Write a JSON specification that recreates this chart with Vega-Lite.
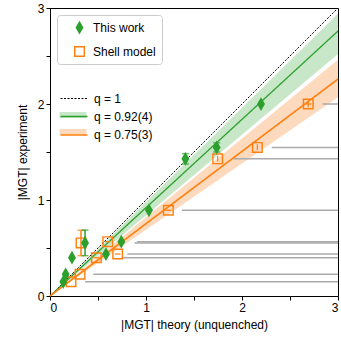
{
  "$schema": "https://vega.github.io/schema/vega-lite/v6.json",
  "width": 288,
  "height": 288,
  "autosize": {"type": "none"},
  "padding": {"left": 50, "top": 8, "right": 3, "bottom": 44},
  "background": "white",
  "config": {
    "font": "Liberation Sans",
    "view": {"stroke": "#000", "strokeWidth": 1},
    "axis": {
      "grid": false,
      "domainColor": "#000",
      "tickColor": "#000",
      "labelColor": "#000",
      "titleColor": "#000",
      "labelFontSize": 12,
      "titleFontSize": 12,
      "titleFontWeight": "normal",
      "tickSize": 4,
      "labelPadding": 2
    },
    "legend": {"labelFontSize": 12, "labelColor": "#000", "labelFont": "Liberation Sans"}
  },
  "datasets": {
    "points": [
      {"series": "Shell model", "x": 0.219, "y": 0.148},
      {"series": "Shell model", "x": 0.313, "y": 0.226},
      {"series": "Shell model", "x": 0.323, "y": 0.553},
      {"series": "Shell model", "x": 0.483, "y": 0.399},
      {"series": "Shell model", "x": 0.601, "y": 0.566},
      {"series": "Shell model", "x": 0.705, "y": 0.437},
      {"series": "Shell model", "x": 1.233, "y": 0.893},
      {"series": "Shell model", "x": 1.747, "y": 1.429},
      {"series": "Shell model", "x": 2.16, "y": 1.548},
      {"series": "Shell model", "x": 2.69, "y": 2.0},
      {"series": "This work", "x": 0.139, "y": 0.148},
      {"series": "This work", "x": 0.163, "y": 0.226},
      {"series": "This work", "x": 0.229, "y": 0.399},
      {"series": "This work", "x": 0.365, "y": 0.553},
      {"series": "This work", "x": 0.583, "y": 0.437},
      {"series": "This work", "x": 0.743, "y": 0.566},
      {"series": "This work", "x": 1.031, "y": 0.893},
      {"series": "This work", "x": 1.41, "y": 1.429},
      {"series": "This work", "x": 1.736, "y": 1.548},
      {"series": "This work", "x": 2.198, "y": 2.0}
    ],
    "greenErr": [
      {"x": 0.365, "y": 0.42, "y2": 0.687},
      {"x": 1.41, "y": 1.375, "y2": 1.483},
      {"x": 1.736, "y": 1.5, "y2": 1.596}
    ],
    "orangeErr": [
      {"x": 0.323, "y": 0.42, "y2": 0.685}
    ],
    "orangeSmallV": [
      {"x": 1.747, "y": 1.40, "y2": 1.46},
      {"x": 2.16, "y": 1.52, "y2": 1.58},
      {"x": 2.69, "y": 1.965, "y2": 2.035}
    ],
    "orangeSmallH": [
      {"x": 2.655, "x2": 2.725, "y": 2.0},
      {"x": 0.675, "x2": 0.735, "y": 0.437},
      {"x": 1.2, "x2": 1.266, "y": 0.893},
      {"x": 0.455, "x2": 0.511, "y": 0.399},
      {"x": 0.573, "x2": 0.629, "y": 0.566}
    ],
    "gray": [
      {"x": 2.84, "x2": 3, "y": 2.0},
      {"x": 2.31, "x2": 3, "y": 1.548},
      {"x": 1.91, "x2": 3, "y": 1.429},
      {"x": 1.375, "x2": 3, "y": 0.893},
      {"x": 0.905, "x2": 3, "y": 0.566},
      {"x": 0.88, "x2": 3, "y": 0.553},
      {"x": 0.805, "x2": 3, "y": 0.437},
      {"x": 0.747, "x2": 3, "y": 0.399},
      {"x": 0.45, "x2": 3, "y": 0.226},
      {"x": 0.365, "x2": 3, "y": 0.148}
    ],
    "lines": [
      {"q": "q = 1", "x": 0, "y": 0},
      {"q": "q = 1", "x": 3, "y": 3},
      {"q": "q = 0.92(4)", "x": 0, "y": 0},
      {"q": "q = 0.92(4)", "x": 3, "y": 2.76},
      {"q": "q = 0.75(3)", "x": 0, "y": 0},
      {"q": "q = 0.75(3)", "x": 3, "y": 2.26}
    ],
    "bands": [
      {"band": "green band", "x": 0, "y": 0, "y2": 0},
      {"band": "green band", "x": 3, "y": 2.52, "y2": 2.94},
      {"band": "orange band", "x": 0, "y": 0, "y2": 0},
      {"band": "orange band", "x": 3, "y": 2.07, "y2": 2.46}
    ]
  },
  "encoding": {
    "x": {
      "field": "x", "type": "quantitative",
      "scale": {"domain": [0, 3], "nice": false, "zero": false},
      "axis": {
        "title": "|MGT| theory (unquenched)",
        "values": [0, 0.5, 1, 1.5, 2, 2.5, 3],
        "labelExpr": "datum.value % 1 === 0 ? format(datum.value, 'd') : ''",
        "titlePadding": 6
      }
    },
    "y": {
      "field": "y", "type": "quantitative",
      "scale": {"domain": [0, 3], "nice": false, "zero": false},
      "axis": {
        "title": "|MGT| experiment",
        "values": [0, 0.5, 1, 1.5, 2, 2.5, 3],
        "labelExpr": "datum.value % 1 === 0 ? format(datum.value, 'd') : ''",
        "titlePadding": 8
      }
    }
  },
  "layer": [
    {
      "data": {"name": "bands"},
      "mark": {"type": "area", "opacity": 1},
      "encoding": {
        "y2": {"field": "y2"},
        "fill": {
          "field": "band", "type": "nominal",
          "scale": {"domain": ["blank band", "green band", "orange band"], "range": ["transparent", "#c8e6c8", "#fdd9bd"]},
          "legend": {
            "orient": "none", "legendX": 16, "legendY": 83,
            "title": null, "padding": 0, "rowPadding": 4,
            "symbolType": "M-2,-0.45H2V0.45H-2Z", "symbolSize": 182,
            "symbolStrokeWidth": 0, "symbolOpacity": 1,
            "labelOffset": 12, "labelExpr": "''"
          }
        }
      }
    },
    {
      "data": {"name": "gray"},
      "mark": {"type": "rule", "color": "#aaaaaa", "strokeWidth": 1.5},
      "encoding": {"x2": {"field": "x2"}}
    },
    {
      "data": {"name": "lines"},
      "mark": {"type": "line"},
      "encoding": {
        "stroke": {
          "field": "q", "type": "nominal",
          "scale": {"domain": ["q = 1", "q = 0.92(4)", "q = 0.75(3)"], "range": ["#000000", "#2ca02c", "#ff7f0e"]},
          "legend": {
            "orient": "none", "legendX": 16, "legendY": 83,
            "title": null, "padding": 0, "rowPadding": 4,
            "symbolType": "M-2,0H2", "symbolSize": 182,
            "labelOffset": 12
          }
        },
        "strokeDash": {
          "field": "q", "type": "nominal",
          "scale": {"domain": ["q = 1", "q = 0.92(4)", "q = 0.75(3)"], "range": [[2, 1.5], [1, 0], [1, 0]]}
        },
        "strokeWidth": {
          "field": "q", "type": "nominal",
          "scale": {"domain": ["q = 1", "q = 0.92(4)", "q = 0.75(3)"], "range": [1, 1.6, 1.6]}
        }
      }
    },
    {
      "data": {"name": "orangeSmallV"},
      "mark": {"type": "rule", "color": "#ff7f0e", "strokeWidth": 1.2},
      "encoding": {"y2": {"field": "y2"}}
    },
    {
      "data": {"name": "orangeSmallH"},
      "mark": {"type": "rule", "color": "#ff7f0e", "strokeWidth": 1.2},
      "encoding": {"x2": {"field": "x2"}}
    },
    {
      "data": {"name": "orangeErr"},
      "mark": {"type": "errorbar", "ticks": true, "color": "#ff7f0e", "thickness": 1.5, "size": 7},
      "encoding": {"y2": {"field": "y2"}}
    },
    {
      "data": {"name": "greenErr"},
      "mark": {"type": "errorbar", "ticks": true, "color": "#2ca02c", "thickness": 1.5, "size": 7},
      "encoding": {"y2": {"field": "y2"}}
    },
    {
      "data": {"name": "points"},
      "mark": {"type": "point", "filled": true, "opacity": 1, "size": 121, "strokeWidth": 0},
      "encoding": {
        "color": {
          "field": "series", "type": "nominal",
          "scale": {"domain": ["This work", "Shell model"], "range": ["#2ca02c", "#ff7f0e"]},
          "legend": {
            "orient": "none", "legendX": 7, "legendY": 7,
            "title": null, "padding": 6, "rowPadding": 10,
            "symbolOffset": 10, "labelOffset": 7, "symbolSize": 121,
            "strokeColor": "#cccccc", "fillColor": "white", "cornerRadius": 3
          }
        },
        "shape": {
          "field": "series", "type": "nominal",
          "scale": {"domain": ["This work", "Shell model"], "range": ["M0,-1.25L0.72,0L0,1.25L-0.72,0Z", "M-1,-1H1V1H-1ZM-0.74,-0.74V0.74H0.74V-0.74Z"]}
        }
      }
    }
  ]
}
